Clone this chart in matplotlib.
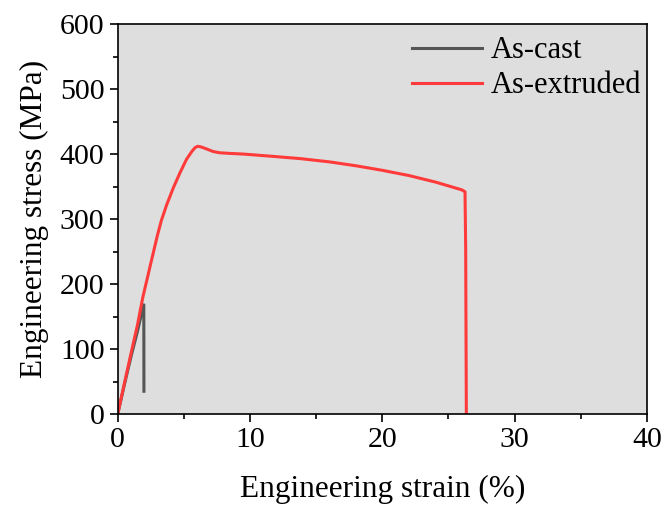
import matplotlib
matplotlib.use("Agg")
import matplotlib.pyplot as plt
from matplotlib.ticker import MultipleLocator

plt.rcParams['font.family'] = ['Liberation Serif', 'DejaVu Serif']

# as-cast curve
cast_strain = [0, 0.5, 1.0, 1.5, 1.93, 1.97, 1.975, 1.98]
cast_stress = [0, 45, 88, 128, 166, 168, 100, 35]

# as-extruded curve
ext_strain = [0, 0.5, 1.0, 1.5, 1.9, 2.5, 3.0, 3.3, 3.7, 4.2, 4.7, 5.2, 5.6, 5.85, 6.05,
              6.3, 6.7, 7.2, 7.7, 8.5, 9.5, 11.4, 13.8, 16, 18, 20, 22, 24, 25, 26.0, 26.25,
              26.3, 26.35]
ext_stress = [0, 47, 93, 138, 180, 232, 275, 298, 322, 348, 371, 392, 404, 410, 412,
              411, 408, 404, 402, 401, 400, 397, 393, 388, 382, 375, 367, 357, 351, 345, 342,
              255, 0]

fig = plt.figure(figsize=(6.69, 5.13), dpi=100)
ax = fig.add_axes([0.176, 0.193, 0.791, 0.760])
ax.set_facecolor('#dedede')

ax.plot(cast_strain, cast_stress, color='#555555', lw=2.2, label='As-cast')
ax.plot(ext_strain, ext_stress, color='#ff3a3a', lw=2.2, label='As-extruded')

ax.set_xlim(0, 40)
ax.set_ylim(0, 600)
ax.xaxis.set_major_locator(MultipleLocator(10))
ax.xaxis.set_minor_locator(MultipleLocator(5))
ax.yaxis.set_major_locator(MultipleLocator(100))
ax.yaxis.set_minor_locator(MultipleLocator(50))
ax.tick_params(which='major', direction='out', length=6, width=1.2, labelsize=21.5)
ax.tick_params(which='minor', direction='out', length=3.5, width=1.2)
for s in ax.spines.values():
    s.set_linewidth(1.2)

ax.set_xlabel('Engineering strain (%)', fontsize=22.5, labelpad=16)
ax.set_ylabel('Engineering stress (MPa)', fontsize=22.5, labelpad=8)

ax.legend(loc='upper right', bbox_to_anchor=(1.019, 1.008), frameon=False, fontsize=22,
          handlelength=2.3, borderaxespad=0.1, handletextpad=0.3, labelspacing=0.2)

fig.savefig('out.png', dpi=100)
